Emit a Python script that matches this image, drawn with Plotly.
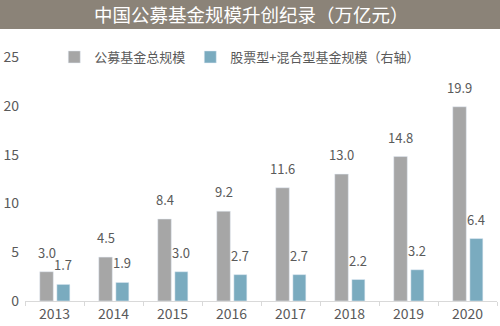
import plotly.graph_objects as go

years = ["2013", "2014", "2015", "2016", "2017", "2018", "2019", "2020"]
total_aum = [3.0, 4.5, 8.4, 9.2, 11.6, 13.0, 14.8, 19.9]
equity_mixed = [1.7, 1.9, 3.0, 2.7, 2.7, 2.2, 3.2, 6.4]
yticks = [0, 5, 10, 15, 20, 25]

title_text = "中国公募基金规模升创纪录（万亿元）"
name_total = "公募基金总规模"
name_eq = "股票型+混合型基金规模（右轴）"

GRAY = "#a6a6a6"
BLUE = "#7aabbf"
BANNER = "#8b8378"
TXT = "#5a5a5a"
FONT = "Noto Sans CJK SC"

fig = go.Figure()
fig.add_trace(go.Bar(x=years, y=total_aum, name=name_total, marker_color=GRAY,
                     width=0.23, offset=-0.25))
fig.add_trace(go.Bar(x=years, y=equity_mixed, name=name_eq, marker_color=BLUE,
                     width=0.22, offset=0.04))

ann = []
for i, (y, v) in enumerate(zip(years, total_aum)):
    ann.append(dict(x=i - 0.135, y=v, xref="x", yref="y", text=f"{v:.1f}",
                    showarrow=False, yanchor="bottom", yshift=8,
                    font=dict(size=13, color=TXT, family=FONT)))
for i, (y, v) in enumerate(zip(years, equity_mixed)):
    ann.append(dict(x=i + 0.15, y=v, xref="x", yref="y", text=f"{v:.1f}",
                    showarrow=False, yanchor="bottom", yshift=8,
                    font=dict(size=13, color=TXT, family=FONT)))
ann.append(dict(x=(250 - 23) / 474, y=(301 - 14.5) / 244, xref="paper", yref="paper",
                yanchor="middle", xanchor="center",
                text=title_text, showarrow=False,
                font=dict(size=18.5, color="white", family=FONT)))

fig.update_layout(
    width=500, height=326,
    margin=dict(l=23, r=3, t=57, b=25),
    paper_bgcolor="white", plot_bgcolor="white",
    font=dict(family=FONT, color=TXT, size=13),
    showlegend=True,
    legend=dict(orientation="h", x=0.062, y=1.0, xanchor="left", yanchor="middle",
                font=dict(size=13, color=TXT), itemwidth=30, traceorder="normal",
                bgcolor="rgba(0,0,0,0)"),
    annotations=ann,
    shapes=[dict(type="rect", xref="paper", yref="paper", x0=-0.2, x1=1.2,
                 y0=(301 - 29) / 244, y1=1.3, fillcolor=BANNER, line_width=0,
                 layer="below")],
    xaxis=dict(showgrid=False, showline=True, linecolor="#d9d9d9", linewidth=1,
               ticks="outside", tickcolor="#d9d9d9", ticklen=4,
               tickson="boundaries", tickfont=dict(size=14, color=TXT),
               range=[-0.5, 7.5]),
    yaxis=dict(range=[0, 25], tickvals=yticks, showgrid=False, zeroline=False,
               showline=False, tickfont=dict(size=14, color=TXT), ticks="",
               ticklabelstandoff=5),
)

fig.write_html("out.html")
